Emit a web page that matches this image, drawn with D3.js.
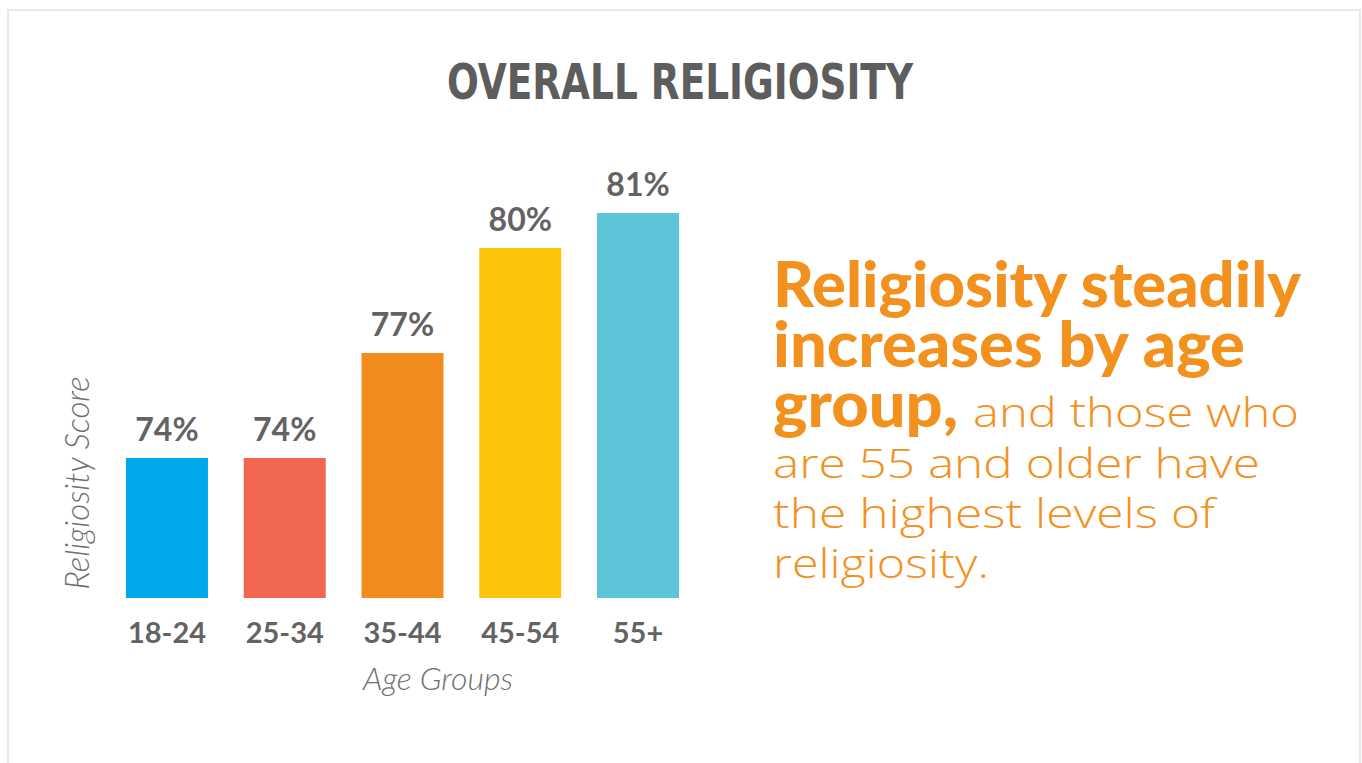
<html lang="en">
<head>
    <meta charset="UTF-8">
    <title>Overall Religiosity</title>
    <script src="https://cdn.jsdelivr.net/npm/d3@7" type="text/javascript"></script>
    <style>
        body { margin: 0; background: #fff; }
    </style>
</head>
<body>
    <svg id="svg"></svg>

    <script>
        var WIDTH = 1362;
        var HEIGHT = 763;

        // data
        var ageGroups = ["18-24", "25-34", "35-44", "45-54", "55+"];
        var scores = [74, 74, 77, 80, 81];
        var barColors = ["#00a9e9", "#f06650", "#f28c1e", "#fdc40c", "#5cc6d8"];

        var TEXT_GREY = "#636363";
        var ORANGE = "#f3911f";

        var svg = d3.select("#svg")
                    .attr("width", WIDTH)
                    .attr("height", HEIGHT);

        // card frame
        svg.append("rect")
           .attr("x", 8)
           .attr("y", 10)
           .attr("width", 1352)
           .attr("height", 780)
           .attr("fill", "#fff")
           .attr("stroke", "#e9e9e9")
           .attr("stroke-width", 2);

        svg.append("text")
           .attr("x", 680)
           .attr("y", 99)
           .attr("text-anchor", "middle")
           .attr("textLength", 466)
           .attr("lengthAdjust", "spacingAndGlyphs")
           .style("font-family", "'Liberation Sans Narrow', 'DejaVu Sans Condensed', sans-serif")
           .style("font-weight", "bold")
           .style("font-size", "49px")
           .attr("fill", "#5d5d5d")
           .text("OVERALL RELIGIOSITY");

        var xScale = d3.scaleBand()
                       .domain(ageGroups)
                       .range([126, 679])
                       .paddingInner(0.304)
                       .paddingOuter(0);

        var yScale = d3.scaleLinear()
                       .domain([70, 82])
                       .range([598, 178]);

        var rows = ageGroups.map(function(g, i){
            return {group: g, score: scores[i], color: barColors[i]};
        });

        svg.selectAll("rect.bar")
           .data(rows)
           .enter()
           .append("rect")
           .attr("class", "bar")
           .attr("x", function(d){ return xScale(d.group); })
           .attr("y", function(d){ return yScale(d.score); })
           .attr("width", xScale.bandwidth())
           .attr("height", function(d){ return yScale(70) - yScale(d.score); })
           .attr("fill", function(d){ return d.color; });

        svg.selectAll("text.value")
           .data(rows)
           .enter()
           .append("text")
           .attr("class", "value")
           .attr("x", function(d){ return xScale(d.group) + xScale.bandwidth()/2; })
           .attr("y", function(d){ return yScale(d.score) - 17; })
           .attr("text-anchor", "middle")
           .style("font-family", "Lato, sans-serif")
           .style("font-weight", "bold")
           .style("font-size", "32px")
           .attr("fill", TEXT_GREY)
           .text(function(d){ return d.score + "%"; });

        // x axis, labels only
        var xAxis = d3.axisBottom()
                      .scale(xScale)
                      .tickSize(0)
                      .tickPadding(0);

        var gx = svg.append("g")
                    .attr("transform", "translate(0,643)")
                    .call(xAxis);
        gx.select(".domain").remove();
        gx.selectAll("text")
          .attr("dy", 0)
          .attr("y", 0)
          .style("font-family", "Lato, sans-serif")
          .style("font-weight", "bold")
          .style("font-size", "29px")
          .attr("fill", TEXT_GREY);

        svg.append("text")
           .attr("x", 438)
           .attr("y", 690)
           .attr("text-anchor", "middle")
           .style("font-family", "Lato, sans-serif")
           .style("font-weight", 300)
           .style("font-style", "italic")
           .style("font-size", "32px")
           .attr("fill", "#6f6f6f")
           .text("Age Groups");

        svg.append("text")
           .attr("transform", "translate(89,483) rotate(-90)")
           .attr("text-anchor", "middle")
           .style("font-family", "Lato, sans-serif")
           .style("font-weight", 300)
           .style("font-style", "italic")
           .style("font-size", "33px")
           .attr("fill", "#6f6f6f")
           .text("Religiosity Score");

        // annotation
        var note = svg.append("g")
                      .attr("fill", ORANGE)
                      .style("font-family", "Lato, sans-serif");

        var boldLines = [
            {t: "Religiosity steadily", y: 307, w: 528},
            {t: "increases by age", y: 367, w: 472}
        ];
        boldLines.forEach(function(l){
            note.append("text")
                .attr("x", 773)
                .attr("y", l.y)
                .attr("textLength", l.w)
                .attr("lengthAdjust", "spacingAndGlyphs")
                .style("font-weight", 900)
                .style("font-size", "62px")
                .text(l.t);
        });

        var mixed = note.append("text")
                        .attr("x", 773)
                        .attr("y", 427);
        mixed.append("tspan")
             .attr("textLength", 185)
             .attr("lengthAdjust", "spacingAndGlyphs")
             .style("font-weight", 900)
             .style("font-size", "62px")
             .text("group,");
        mixed.append("tspan")
             .attr("x", 973)
             .attr("textLength", 326)
             .attr("lengthAdjust", "spacingAndGlyphs")
             .style("font-family", "'Open Sans', sans-serif")
             .style("font-weight", 300)
             .style("font-size", "41px")
             .text("and those who");

        var lightLines = [
            {t: "are 55 and older have", y: 478, w: 487},
            {t: "the highest levels of", y: 528, w: 442},
            {t: "religiosity.", y: 578, w: 216}
        ];
        lightLines.forEach(function(l){
            note.append("text")
                .attr("x", 773)
                .attr("y", l.y)
                .attr("textLength", l.w)
                .attr("lengthAdjust", "spacingAndGlyphs")
                .style("font-family", "'Open Sans', sans-serif")
                .style("font-weight", 300)
                .style("font-size", "41px")
                .text(l.t);
        });
    </script>
</body>
</html>
